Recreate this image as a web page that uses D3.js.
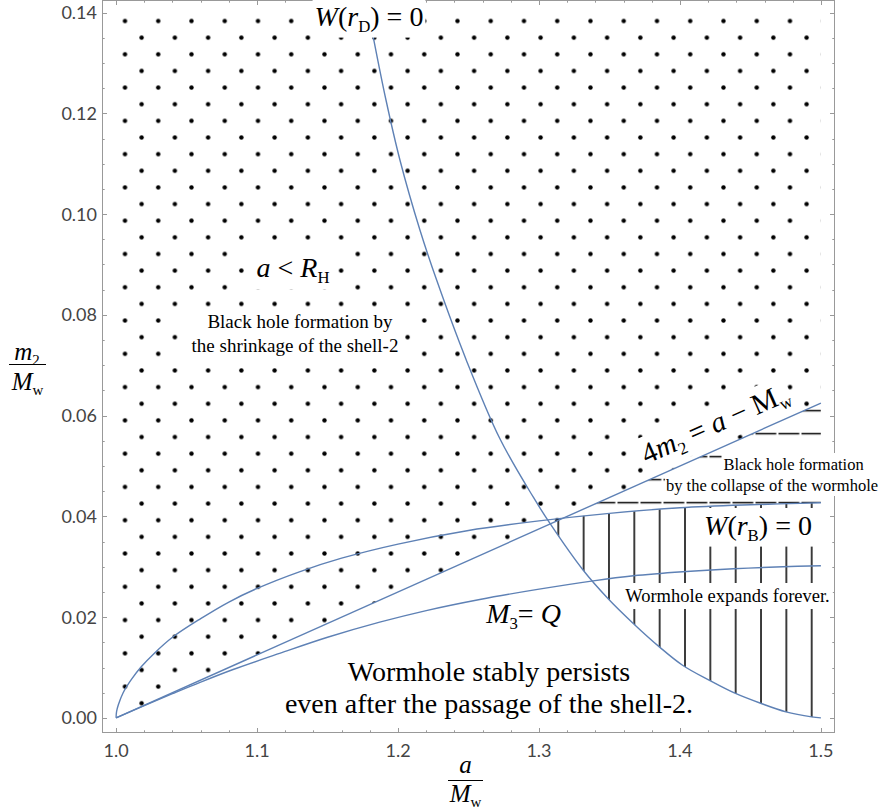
<!DOCTYPE html>
<html><head><meta charset="utf-8">
<script src="https://cdn.jsdelivr.net/npm/d3@7"></script>
<style>html,body{margin:0;padding:0;background:#fff;} svg{display:block;}</style>
</head><body>
<svg id="chart" width="883" height="809"></svg>
<script>
// ---------------- data ----------------
const xTickValues = [1.0, 1.1, 1.2, 1.3, 1.4, 1.5];
const xTickLabels = ["1.0", "1.1", "1.2", "1.3", "1.4", "1.5"];
const yTickValues = [0, 0.02, 0.04, 0.06, 0.08, 0.10, 0.12, 0.14];
const yTickLabels = ["0.00", "0.02", "0.04", "0.06", "0.08", "0.10", "0.12", "0.14"];

// curve W(r_D) = 0
const rdA = [1.1824, 1.1915, 1.2014, 1.2156, 1.2274, 1.2482, 1.2723, 1.2960, 1.3078, 1.3314, 1.3489, 1.3667, 1.3858, 1.4021, 1.4213, 1.4390, 1.4572, 1.4752, 1.4934, 1.5];
const rdM = [0.1352, 0.1226, 0.1107, 0.0968, 0.0869, 0.0712, 0.0554, 0.0438, 0.0386, 0.0293, 0.0237, 0.0188, 0.0140, 0.0104, 0.0074, 0.0049, 0.0029, 0.0012, 0.0002, 0.0];
// curve W(r_B) = 0
const rbA = [1.0, 1.0003, 1.0016, 1.005, 1.011, 1.018, 1.027, 1.04, 1.06, 1.08, 1.1, 1.13, 1.16, 1.2, 1.25, 1.3, 1.35, 1.4, 1.45, 1.5];
const rbM = [0, 0.0012, 0.0026, 0.0050, 0.0077, 0.0102, 0.0128, 0.0160, 0.0197, 0.0230, 0.0257, 0.0290, 0.0317, 0.0345, 0.0372, 0.0391, 0.0406, 0.0417, 0.0423, 0.0427];
// curve M3 = Q
const mqA = [1.0, 1.02, 1.04, 1.06, 1.083, 1.116, 1.15, 1.187, 1.22, 1.258, 1.299, 1.3385, 1.367, 1.402, 1.438, 1.473, 1.5];
const mqM = [0, 0.00245, 0.0048, 0.0071, 0.0096, 0.0128, 0.0160, 0.0190, 0.0213, 0.0235, 0.0255, 0.0272, 0.0282, 0.0290, 0.0296, 0.0300, 0.0302];
// line 4 m2 = a - Mw
const lnA = [1.0, 1.5];
const lnM = [0.0, 0.0625];

// texts
const textRD = [{t:"W", it:1}, {t:"("}, {t:"r", it:1}, {t:"D", sub:1}, {t:") = 0"}];
const textRB = [{t:"W", it:1}, {t:"("}, {t:"r", it:1}, {t:"B", sub:1}, {t:") = 0"}];
const textRH = [{t:"a", it:1}, {t:" < "}, {t:"R", it:1}, {t:"H", sub:1}];
const textMQ = [{t:"M", it:1}, {t:"3", sub:1}, {t:"= "}, {t:"Q", it:1}];
const textLN = [{t:"4"}, {t:"m", it:1}, {t:"2", sub:1}, {t:" = "}, {t:"a", it:1}, {t:" \u2212 M"}, {t:"w", sub:1}];
const textShrink = ["Black hole formation by", "the shrinkage of the shell-2"];
const textCollapse = ["Black hole formation", "by the collapse of the wormhole"];
const textExpand = "Wormhole expands forever.";
const textStable = ["Wormhole stably persists", "even after the passage of the shell-2."];

// ---------------- layout ----------------
const frame = {left: 102, right: 835, top: 0, bottom: 733};
const x = d3.scaleLinear().domain([0.99, 1.51]).range([frame.left, frame.right]);
const y = d3.scaleLinear().domain([-0.003, 0.1425]).range([frame.bottom, frame.top]);
const SERIF = "'Liberation Serif','Times New Roman',serif";
const TICKFONT = "Lato, 'Noto Sans', sans-serif";
const BLUE = "#5e81b5";

const svg = d3.select("#chart");
const defs = svg.append("defs");

const zip = (A, M) => A.map((a, i) => [a, M[i]]);
const rd = zip(rdA, rdM), rb = zip(rbA, rbM), mq = zip(mqA, mqM), ln = zip(lnA, lnM);

defs.append("clipPath").attr("id", "plotClip").append("rect")
  .attr("x", frame.left).attr("y", frame.top)
  .attr("width", frame.right - frame.left).attr("height", frame.bottom - frame.top);

const curve = d3.curveCatmullRom.alpha(0.5);
function areaPath(pts, yEdge) {
  return d3.area().curve(curve).x(d => x(d[0])).y0(yEdge).y1(d => y(d[1]))(pts);
}
function addClip(id, d) { defs.append("clipPath").attr("id", id).append("path").attr("d", d); }
addClip("aboveRD", areaPath(rd, frame.top));
addClip("belowRB", areaPath(rb, frame.bottom));
addClip("aboveRB", areaPath(rb, frame.top));
addClip("belowLN", areaPath(ln, frame.bottom));
addClip("aboveLN", areaPath(ln, y(0.14)));

// patterns
const dotP = defs.append("pattern").attr("id", "dots").attr("patternUnits", "userSpaceOnUse")
  .attr("x", 125 - 8.3).attr("y", 21 - 8.3).attr("width", 33.25).attr("height", 33.28);
dotP.append("circle").attr("cx", 8.3).attr("cy", 8.3).attr("r", 2.2).attr("fill", "#000");
dotP.append("circle").attr("cx", 8.3 + 16.625).attr("cy", 8.3 + 16.64).attr("r", 2.2).attr("fill", "#000");

const vP = defs.append("pattern").attr("id", "vhatch").attr("patternUnits", "userSpaceOnUse")
  .attr("x", 558.3 - 12.67).attr("y", 0).attr("width", 25.34).attr("height", 40);
vP.append("line").attr("x1", 12.67).attr("x2", 12.67).attr("y1", 0).attr("y2", 40)
  .attr("stroke", "#000").attr("stroke-width", 1.5);

const hP = defs.append("pattern").attr("id", "hhatch").attr("patternUnits", "userSpaceOnUse")
  .attr("x", 755.5).attr("y", 502.7 - 11.5).attr("width", 23).attr("height", 23);
hP.append("line").attr("x1", 0).attr("x2", 20.8).attr("y1", 11.5).attr("y2", 11.5)
  .attr("stroke", "#000").attr("stroke-width", 1.5);

// ---------------- frame & ticks ----------------
const axisG = svg.append("g");
axisG.append("rect").attr("x", frame.left + 0.5).attr("y", frame.top + 0.5)
  .attr("width", frame.right - frame.left - 1).attr("height", frame.bottom - frame.top - 1)
  .attr("fill", "none").attr("stroke", "#999").attr("stroke-width", 1);

const xMinor = d3.range(0, 26).map(i => 1 + i * 0.02).filter(v => Math.abs(v * 10 - Math.round(v * 10)) > 1e-6);
const yMinor = d3.range(0, 29).map(i => i * 0.005).filter(v => Math.abs(v * 50 - Math.round(v * 50)) > 1e-6);
function xTick(v, len) {
  const px = Math.round(x(v)) + 0.5;
  axisG.append("line").attr("x1", px).attr("x2", px).attr("y1", frame.bottom).attr("y2", frame.bottom - len).attr("stroke", "#999");
  axisG.append("line").attr("x1", px).attr("x2", px).attr("y1", frame.top).attr("y2", frame.top + len).attr("stroke", "#999");
}
function yTick(v, len) {
  const py = Math.round(y(v)) + 0.5;
  axisG.append("line").attr("x1", frame.left).attr("x2", frame.left + len).attr("y1", py).attr("y2", py).attr("stroke", "#999");
  axisG.append("line").attr("x1", frame.right).attr("x2", frame.right - len).attr("y1", py).attr("y2", py).attr("stroke", "#999");
}
xTickValues.forEach(v => xTick(v, 5));
xMinor.forEach(v => xTick(v, 2.7));
yTickValues.forEach(v => yTick(v, 5));
yMinor.forEach(v => yTick(v, 2.7));

xTickValues.forEach((v, i) => {
  axisG.append("text").attr("x", x(v)).attr("y", 757).attr("text-anchor", "middle")
    .attr("font-family", TICKFONT).attr("font-size", 18).attr("fill", "#444").text(xTickLabels[i]);
});
yTickValues.forEach((v, i) => {
  axisG.append("text").attr("x", 97).attr("y", y(v) + 6.5).attr("text-anchor", "end")
    .attr("font-family", TICKFONT).attr("font-size", 18).attr("fill", "#444").text(yTickLabels[i]);
});

// ---------------- regions ----------------
const plot = svg.append("g").attr("clip-path", "url(#plotClip)");
const W = frame.right - frame.left, Hh = frame.bottom - frame.top;
plot.append("g").attr("clip-path", "url(#aboveLN)")
  .append("rect").attr("x", frame.left).attr("y", frame.top).attr("width", W).attr("height", Hh).attr("fill", "url(#dots)");
plot.append("g").attr("clip-path", "url(#belowRB)")
  .append("rect").attr("clip-path", "url(#aboveRD)")
  .attr("x", frame.left).attr("y", frame.top).attr("width", W).attr("height", Hh).attr("fill", "url(#vhatch)");
plot.append("g").attr("clip-path", "url(#belowLN)")
  .append("rect").attr("clip-path", "url(#aboveRB)")
  .attr("x", frame.left).attr("y", frame.top).attr("width", W).attr("height", Hh).attr("fill", "url(#hhatch)");

// curves
const lineGen = d3.line().curve(curve).x(d => x(d[0])).y(d => y(d[1]));
[rd, rb, mq, ln].forEach(pts => {
  plot.append("path").attr("d", lineGen(pts)).attr("fill", "none").attr("stroke", BLUE).attr("stroke-width", 1.4);
});

// ---------------- labels ----------------
const labels = svg.append("g");
function richText(g, segs, fs, px, py, anchor) {
  const t = g.append("text").attr("x", px).attr("y", py).attr("font-family", SERIF)
    .attr("font-size", fs).attr("text-anchor", anchor || "middle").attr("fill", "#000");
  let shifted = 0;
  segs.forEach(s => {
    const ts = t.append("tspan").text(s.t);
    if (s.it) ts.attr("font-style", "italic");
    if (s.sub) { ts.attr("font-size", fs * 0.6); ts.attr("dy", fs * 0.2 - shifted); shifted = fs * 0.2; }
    else if (shifted) { ts.attr("dy", -shifted); shifted = 0; }
  });
  return t;
}
function boxUnder(g, pad) {
  const b = g.node().getBBox();
  g.insert("rect", ":first-child").attr("x", b.x - pad).attr("y", b.y - pad)
    .attr("width", b.width + 2 * pad).attr("height", b.height + 2 * pad).attr("fill", "#fff");
}
function plainLines(g, lines, fs, px, ys, anchor) {
  lines.forEach((s, i) => {
    g.append("text").attr("x", Array.isArray(px) ? px[i] : px).attr("y", ys[i]).attr("text-anchor", anchor || "middle")
      .attr("font-family", SERIF).attr("font-size", fs).attr("fill", "#000").text(s);
  });
}

let g;
g = labels.append("g"); richText(g, textRD, 28, 369, 26); boxUnder(g, 2);
g = labels.append("g"); richText(g, textRH, 28, 293, 277); boxUnder(g, 3);
g = labels.append("g"); plainLines(g, textShrink, 19, [300, 295], [328, 352]); boxUnder(g, 3);
g = labels.append("g").attr("transform", "translate(719,432) rotate(-24)");
richText(g, textLN, 29, 0, 0); boxUnder(g, 1);
g = labels.append("g"); plainLines(g, [textCollapse[0]], 16.5, 793.6, [470]); boxUnder(g, 2);
g = labels.append("g"); plainLines(g, [textCollapse[1]], 16.5, 772, [491]); boxUnder(g, 1);
g = labels.append("g"); richText(g, textRB, 28, 758, 535); boxUnder(g, 2);
g = labels.append("g"); plainLines(g, [textExpand], 18.5, 727.5, [602]); boxUnder(g, 3);
g = labels.append("g"); richText(g, textMQ, 28, 523.5, 623);
g = labels.append("g"); plainLines(g, textStable, 28, 489, [681, 713]);

// axis titles
const yl = svg.append("g");
richText(yl, [{t:"m", it:1}, {t:"2", sub:1}], 25, 27, 360);
yl.append("line").attr("x1", 9).attr("x2", 46).attr("y1", 364.5).attr("y2", 364.5).attr("stroke", "#000").attr("stroke-width", 1.2);
richText(yl, [{t:"M", it:1}, {t:"w", sub:1}], 25, 27.5, 390);
const xl = svg.append("g");
richText(xl, [{t:"a", it:1}], 25, 465.5, 773);
xl.append("line").attr("x1", 448).attr("x2", 483).attr("y1", 780.5).attr("y2", 780.5).attr("stroke", "#000").attr("stroke-width", 1.2);
richText(xl, [{t:"M", it:1}, {t:"w", sub:1}], 25, 465.5, 802);
</script>
</body></html>
